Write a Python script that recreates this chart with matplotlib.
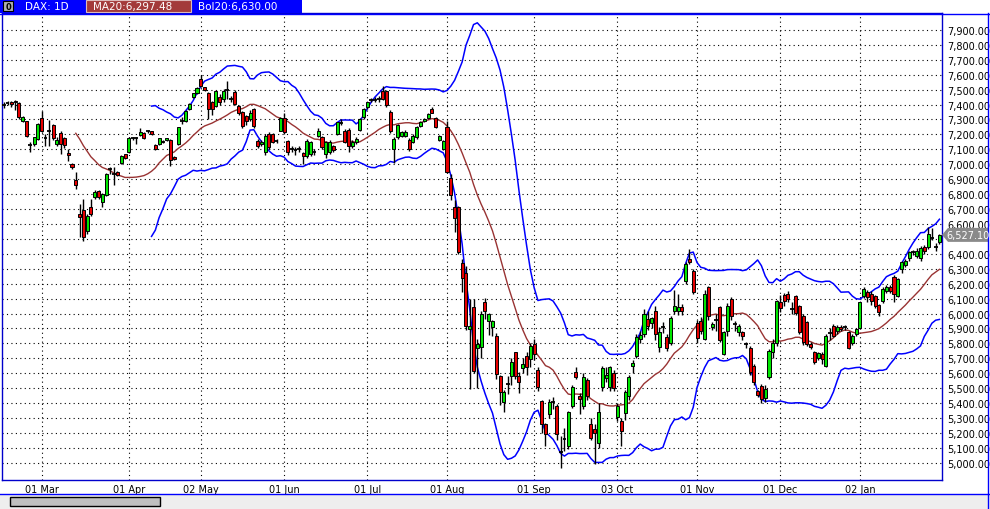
import matplotlib
matplotlib.use("Agg")
import matplotlib.pyplot as plt
from matplotlib.patches import Rectangle, Polygon
import numpy as np
import pandas as pd

# DAX daily bars, 15 Feb 2011 .. 30 Jan 2012
opens = [7395, 7408, 7419, 7421, 7410, 7287, 7287, 7133, 7136, 7169,
         7310, 7176, 7227, 7263, 7136, 7209, 7174, 7075, 6999, 6894, 6667, 6696, 6555, 6711, 6778, 6818, 6745, 6794, 6966, 6933, 6946, 7006, 7066,
         7080, 7172, 7176, 7196, 7209, 7222, 7220, 7129, 7136, 7158, 7160, 7162, 7051, 7136, 7290, 7290, 7368, 7453, 7475,
         7571, 7515, 7478, 7417, 7390, 7450, 7440, 7500, 7442, 7482, 7387, 7348, 7320, 7300, 7370, 7158, 7135, 7080, 7203, 7203, 7160, 7225,
         7307, 7158, 7104, 7097, 7104, 7075, 7057, 7069, 7082, 7192, 7180, 7069, 7080, 7120, 7203, 7276, 7225, 7232, 7120, 7147, 7229, 7314,
         7381, 7430, 7430, 7435, 7490, 7490, 7350, 7102, 7180, 7192, 7190, 7165, 7147, 7180, 7258, 7292, 7307, 7370, 7308, 7165, 7105,
         7247, 6906, 6711, 6711, 6338, 6271, 5896, 6041, 5767, 5773, 6075, 5952, 5907, 5852, 5584, 5409, 5530, 5584, 5740, 5584, 5633, 5718, 5695,
         5796, 5621, 5412, 5260, 5327, 5407, 5383, 5072, 5161, 5115, 5383, 5606, 5450, 5383, 5557, 5260, 5227, 5131, 5506, 5570, 5506, 5602,
         5305, 5282, 5334, 5450, 5646, 5718, 5830, 5863, 5963, 5936, 6019, 5778, 5912, 5841, 5803, 6020, 6020, 6042, 6220, 6365, 6287,
         5937, 5952, 5830, 6176, 5908, 5961, 6042, 5729, 5885, 6098, 5932, 5874, 5874, 5798, 5767, 5651, 5483, 5517, 5432, 5573, 5740, 5800,
         6075, 6124, 6130, 6032, 6115, 6053, 5986, 5941, 5796, 5740, 5700, 5729, 5651, 5870, 5919, 5885, 5907, 5909, 5874, 5803, 5863,
         5901, 6120, 6147, 6131, 6115, 6057, 6086, 6153, 6176, 6243, 6120, 6299, 6325, 6372, 6408, 6388, 6370, 6444, 6444, 6506, 6450, 6477]
highs = [7420, 7425, 7425, 7428, 7415, 7325, 7290, 7146, 7185, 7275,
         7354, 7203, 7298, 7270, 7180, 7220, 7180, 7105, 7010, 6946, 6734, 6767, 6665, 6767, 6825, 6825, 6810, 6940, 6980, 6980, 6955, 7060, 7070,
         7180, 7185, 7180, 7243, 7215, 7230, 7225, 7135, 7178, 7165, 7178, 7170, 7055, 7250, 7318, 7360, 7410, 7480, 7515,
         7600, 7520, 7485, 7425, 7495, 7470, 7505, 7560, 7455, 7495, 7395, 7355, 7330, 7360, 7375, 7170, 7160, 7200, 7215, 7210, 7170, 7315,
         7340, 7165, 7120, 7115, 7120, 7085, 7170, 7155, 7100, 7245, 7190, 7155, 7160, 7130, 7285, 7300, 7235, 7240, 7165, 7180, 7310, 7375,
         7420, 7445, 7450, 7455, 7525, 7500, 7360, 7180, 7270, 7225, 7230, 7175, 7200, 7255, 7290, 7310, 7345, 7385, 7315, 7195, 7165,
         7290, 6935, 6760, 6720, 6365, 6320, 6100, 6100, 5830, 6020, 6105, 6005, 5960, 5870, 5590, 5485, 5580, 5700, 5745, 5610, 5700, 5740, 5800,
         5830, 5640, 5420, 5270, 5430, 5440, 5395, 5180, 5230, 5350, 5520, 5640, 5470, 5600, 5570, 5300, 5260, 5400, 5650, 5640, 5650, 5620,
         5400, 5300, 5490, 5590, 5690, 5860, 5880, 6030, 6020, 5980, 6050, 5910, 5940, 5860, 5985, 6160, 6130, 6065, 6345, 6430, 6300,
         5960, 5980, 6160, 6185, 5945, 6000, 6050, 5880, 6070, 6110, 5950, 5930, 5885, 5810, 5780, 5660, 5490, 5530, 5520, 5760, 5830, 6090,
         6125, 6140, 6150, 6080, 6125, 6060, 6000, 5950, 5810, 5750, 5745, 5740, 5860, 5900, 5930, 5920, 5920, 5925, 5880, 5860, 5905,
         6080, 6180, 6155, 6150, 6125, 6065, 6175, 6190, 6190, 6255, 6240, 6350, 6365, 6420, 6425, 6440, 6450, 6460, 6580, 6575, 6470, 6535]
lows = [7380, 7395, 7385, 7360, 7305, 7280, 7180, 7085, 7120, 7160,
        7215, 7125, 7124, 7165, 7125, 7069, 7110, 7025, 6965, 6835, 6510, 6488, 6530, 6655, 6770, 6770, 6716, 6790, 6935, 6862, 6920, 7000, 7035,
        7075, 7160, 7135, 7190, 7170, 7210, 7198, 7095, 7130, 7142, 7155, 6990, 7030, 7130, 7270, 7285, 7360, 7445, 7470,
        7520, 7490, 7300, 7330, 7385, 7395, 7420, 7440, 7420, 7395, 7330, 7240, 7260, 7290, 7240, 7110, 7120, 7060, 7100, 7140, 7140, 7220,
        7205, 7065, 7085, 7060, 7085, 7002, 7040, 7055, 7060, 7185, 7100, 7040, 7070, 7085, 7195, 7260, 7140, 7080, 7110, 7135, 7220, 7305,
        7370, 7415, 7420, 7420, 7430, 7385, 7210, 7010, 7170, 7180, 7180, 7090, 7140, 7170, 7250, 7285, 7300, 7340, 7240, 7155, 7095,
        6940, 6760, 6545, 6400, 6147, 5890, 5495, 5605, 5500, 5700, 5965, 5855, 5850, 5560, 5390, 5340, 5460, 5520, 5560, 5470, 5600, 5590, 5640,
        5690, 5480, 5200, 5110, 5300, 5360, 5150, 4966, 5080, 5090, 5370, 5560, 5330, 5360, 5420, 5150, 4995, 5100, 5480, 5540, 5480, 5480,
        5280, 5115, 5290, 5420, 5600, 5700, 5800, 5840, 5890, 5900, 5820, 5740, 5870, 5750, 5790, 6000, 5990, 5990, 6200, 6330, 6130,
        5800, 5860, 5820, 5960, 5890, 5880, 5810, 5720, 5850, 5960, 5880, 5850, 5820, 5770, 5590, 5520, 5440, 5400, 5410, 5560, 5700, 5780,
        6010, 6050, 6080, 6000, 5990, 5860, 5790, 5780, 5760, 5660, 5690, 5660, 5640, 5820, 5840, 5860, 5880, 5890, 5760, 5790, 5850,
        5895, 6105, 6080, 6060, 6035, 5985, 6070, 6140, 6140, 6080, 6110, 6270, 6310, 6350, 6390, 6375, 6350, 6400, 6430, 6490, 6420, 6465]
closes = [7400, 7410, 7401, 7415, 7314, 7314, 7187, 7131, 7180, 7270,
          7220, 7174, 7225, 7174, 7162, 7136, 7129, 7062, 6979, 6863, 6649, 6510, 6651, 6667, 6812, 6778, 6801, 6935, 6968, 6935, 6928, 7053, 7040,
          7174, 7174, 7174, 7214, 7174, 7220, 7203, 7100, 7174, 7147, 7174, 7030, 7035, 7247, 7292, 7357, 7405, 7475, 7508,
          7526, 7495, 7370, 7370, 7488, 7420, 7493, 7498, 7440, 7404, 7341, 7258, 7290, 7340, 7258, 7120, 7150, 7192, 7114, 7152, 7158, 7307,
          7214, 7080, 7102, 7095, 7102, 7053, 7158, 7147, 7080, 7225, 7113, 7147, 7151, 7095, 7281, 7285, 7147, 7124, 7150, 7169, 7303, 7370,
          7415, 7432, 7432, 7437, 7440, 7395, 7220, 7170, 7260, 7214, 7215, 7102, 7192, 7247, 7280, 7303, 7337, 7345, 7247, 7187, 7155,
          6950, 6794, 6638, 6410, 6236, 5918, 5914, 5617, 5797, 5997, 6019, 5997, 5948, 5595, 5472, 5472, 5528, 5677, 5584, 5539, 5662, 5640, 5785,
          5727, 5510, 5260, 5193, 5405, 5405, 5193, 5070, 5159, 5338, 5505, 5572, 5427, 5572, 5450, 5164, 5200, 5343, 5633, 5585, 5640, 5499,
          5383, 5215, 5477, 5573, 5672, 5841, 5856, 5997, 5919, 5968, 5863, 5874, 5910, 5767, 5968, 6053, 6046, 6020, 6332, 6343, 6142,
          5834, 5885, 6131, 5986, 5930, 5959, 5825, 5874, 6053, 5986, 5930, 5919, 5847, 5796, 5606, 5539, 5457, 5428, 5495, 5751, 5800, 6086,
          6035, 6086, 6100, 6030, 6004, 5874, 5807, 5796, 5774, 5673, 5733, 5696, 5852, 5872, 5852, 5907, 5896, 5907, 5767, 5852, 5896,
          6075, 6165, 6109, 6086, 6053, 6008, 6165, 6176, 6153, 6131, 6232, 6343, 6354, 6415, 6410, 6421, 6437, 6417, 6533, 6504, 6448, 6527.1]

month_pos = [10, 33, 52, 74, 96, 117, 140, 162, 183, 205, 226]
month_labels = ['01 Mar', '01 Apr', '02 May', '01 Jun', '01 Jul', '01 Aug',
                '01 Sep', '03 Oct', '01 Nov', '01 Dec', '02 Jan']
price_ticks = list(range(5000, 8000, 100))

W, H = 990, 510
BLUE = '#0000ff'

df = pd.DataFrame({'o': opens, 'h': highs, 'l': lows, 'c': closes})
n = len(df)
idx = np.arange(n)
ma = df['c'].rolling(20).mean()
sd = df['c'].rolling(20).std(ddof=0)
upper = (ma + 2 * sd).copy()
lower = (ma - 2 * sd).copy()
upper[:39] = np.nan
lower[:39] = np.nan

fig = plt.figure(figsize=(W / 100, H / 100), dpi=100)
fig.patch.set_facecolor('white')
ax = fig.add_axes([2 / W, 29 / H, 940 / W, 467 / H])
ax.set_xlim(-0.475, 247.67)
ax.set_ylim(4885, 8013)

# grid
for p in price_ticks:
    ax.axhline(p, color='black', lw=0.8, ls=(0, (1, 3)), zorder=0)
for m in month_pos:
    ax.axvline(m, color='black', lw=0.8, ls=(0, (1, 3)), zorder=0)

# indicators
ax.plot(idx, ma, color='#993333', lw=1.0, zorder=1)
ax.plot(idx, upper, color=BLUE, lw=1.1, zorder=1)
ax.plot(idx, lower, color=BLUE, lw=1.1, zorder=1)

# candles
up = df['c'] >= df['o']
ax.vlines(idx, df['l'], df['h'], color='black', lw=1.0, zorder=2)
body_lo = np.minimum(df['o'], df['c'])
body_h = np.abs(df['c'] - df['o'])
big = body_h >= 6
cols = np.where(up, '#00e600', '#e60000')
ax.bar(idx[big], body_h[big], bottom=body_lo[big], width=0.8,
       color=cols[big], edgecolor='black', lw=0.7, zorder=3)
ax.hlines(df['c'][~big], idx[~big] - 0.5, idx[~big] + 0.5, color='black', lw=1.3, zorder=3)

ax.yaxis.tick_right()
ax.set_yticks(price_ticks)
# the 6,500 label sits under the last-price tag
ax.set_yticklabels(['' if p == 6500 else f'{p:,.2f}' for p in price_ticks], fontsize=7)
ax.set_xticks(month_pos)
ax.set_xticklabels(month_labels, fontsize=7)
ax.tick_params(length=0, pad=4)
ax.tick_params(axis='x', pad=3)
for s in ax.spines.values():
    s.set_color('#0000cc')
    s.set_linewidth(1)


def fx(x):
    return x / W


def fy(y):
    return 1 - y / H


# header
fig.add_artist(Rectangle((0, fy(14)), fx(302), 14 / H, transform=fig.transFigure,
                         facecolor=BLUE, edgecolor='none'))
fig.add_artist(Rectangle((fx(86), fy(13)), fx(105), 12 / H, transform=fig.transFigure,
                         facecolor='#a33a3a', edgecolor='#ddbbbb', lw=0.8))
fig.add_artist(Rectangle((fx(3), fy(12)), fx(10), 10 / H, transform=fig.transFigure,
                         facecolor='#b0b0b0', edgecolor='black', lw=0.8))
fig.text(fx(8), fy(7), '0', fontsize=6, ha='center', va='center', weight='bold')
fig.text(fx(25), fy(7), 'DAX: 1D', color='white', fontsize=7.5, va='center')
fig.text(fx(93), fy(7), 'MA20:6,297.48', color='white', fontsize=7.5, va='center')
fig.text(fx(198), fy(7), 'Bol20:6,630.00', color='white', fontsize=7.5, va='center')
fig.add_artist(plt.Line2D([0, 1], [fy(14.5), fy(14.5)], transform=fig.transFigure, color=BLUE, lw=1))
fig.add_artist(plt.Line2D([fx(988), fx(988)], [fy(14), fy(510)], transform=fig.transFigure, color=BLUE, lw=1))

# bottom scroll area
fig.add_artist(Rectangle((0, 0), 1, 15 / H, transform=fig.transFigure,
                         facecolor='#eeeeee', edgecolor='none'))
fig.add_artist(plt.Line2D([0, 1], [fy(495), fy(495)], transform=fig.transFigure, color=BLUE, lw=1))
fig.add_artist(Rectangle((fx(10), fy(507)), fx(150), 9 / H, transform=fig.transFigure,
                         facecolor='#c0c0c0', edgecolor='black', lw=1))

# last price tag
ylast = 225 + (6600 - closes[-1]) * 0.1493
tag = [(fx(942), fy(ylast)), (fx(948), fy(ylast - 7)), (fx(988), fy(ylast - 7)),
       (fx(988), fy(ylast + 7)), (fx(948), fy(ylast + 7))]
fig.add_artist(Polygon(tag, closed=True, transform=fig.transFigure,
                       facecolor='#8a8a8a', edgecolor='none'))
fig.text(fx(968), fy(ylast), f'{closes[-1]:,.2f}', color='white', fontsize=7,
         ha='center', va='center')

fig.savefig('out.png', dpi=100)
